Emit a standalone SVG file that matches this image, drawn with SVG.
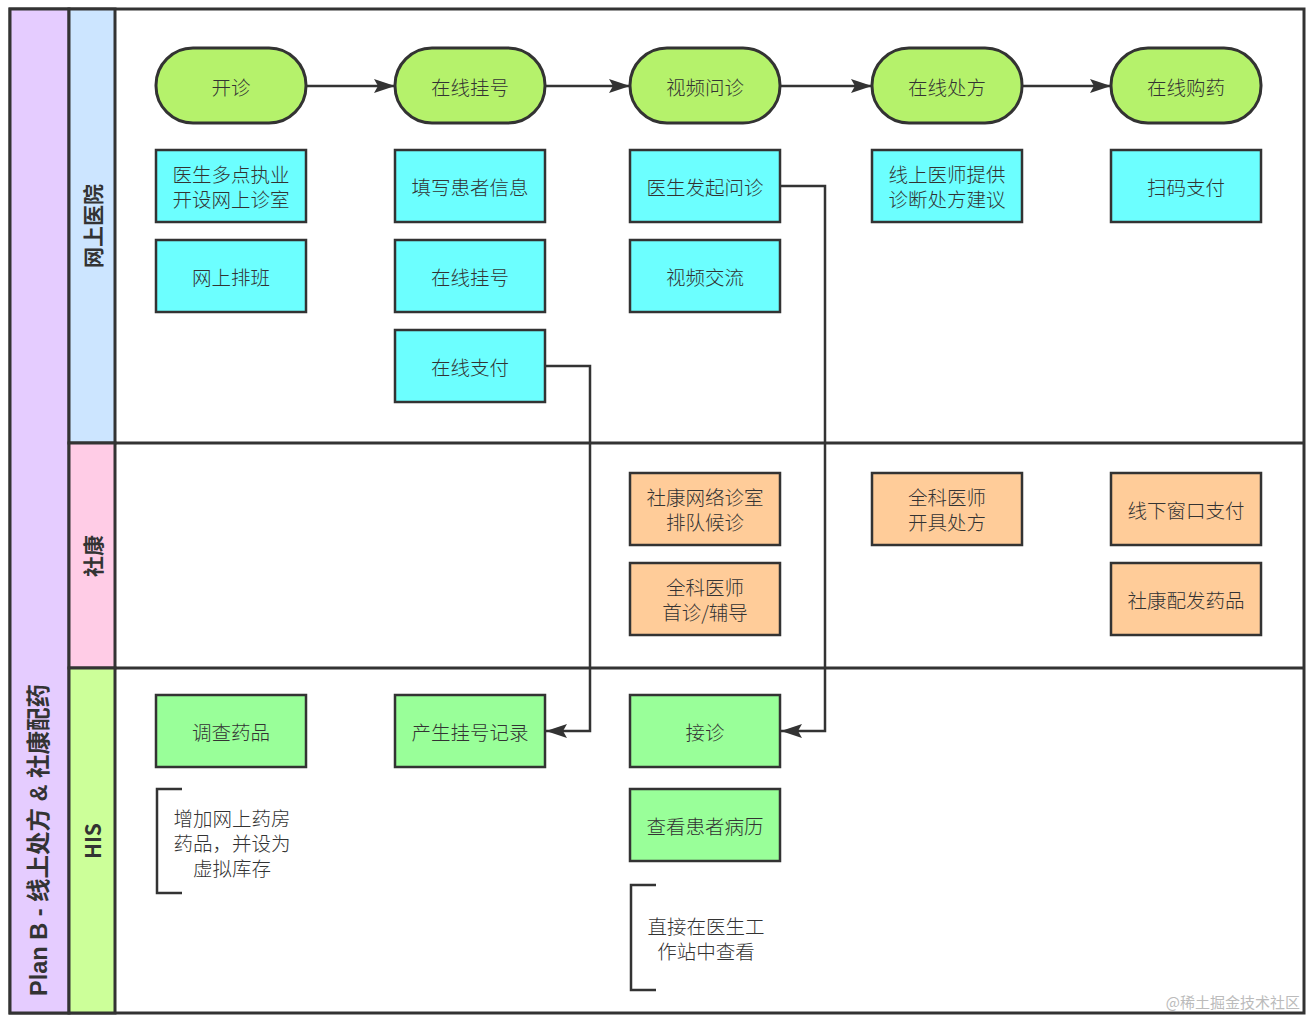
<svg xmlns="http://www.w3.org/2000/svg" width="1311" height="1021" viewBox="0 0 1311 1021">
<style>
text{font-family:"Noto Sans CJK SC","Liberation Sans",sans-serif;fill:#333;}
.t{font-size:19.5px;font-weight:300;text-anchor:middle;dominant-baseline:central;}
.lane{font-size:21px;font-weight:bold;text-anchor:middle;dominant-baseline:central;}
.title{font-family:"Liberation Sans","Noto Sans CJK SC",sans-serif;font-size:23.5px;font-weight:bold;text-anchor:middle;dominant-baseline:central;}
.st{fill:#b5f26b;stroke:#333;stroke-width:3;}
.cy{fill:#6cffff;stroke:#333;stroke-width:2.5;}
.or{fill:#ffcc99;stroke:#333;stroke-width:2.5;}
.gr{fill:#99ff99;stroke:#333;stroke-width:2.5;}
.ln{fill:none;stroke:#333;stroke-width:2.5;}
.br{fill:none;stroke:#333;stroke-width:2.5;}
</style>
<defs>
<marker id="ah" markerWidth="22" markerHeight="16" refX="21" refY="7" orient="auto" markerUnits="userSpaceOnUse">
<path d="M0,0 L21,7 L0,14 L4,7 Z" fill="#333"/>
</marker>
</defs>
<rect width="1311" height="1021" fill="#fff"/>
<g id="pool">
<rect x="10" y="9" width="1294" height="1004" fill="#fff" stroke="#333" stroke-width="3"/>
<rect x="10" y="9" width="59" height="1004" fill="#e5ccff" stroke="#333" stroke-width="3"/>
<rect x="69" y="9" width="46" height="434" fill="#cce5ff" stroke="#333" stroke-width="3"/>
<rect x="69" y="443" width="46" height="225" fill="#ffcce6" stroke="#333" stroke-width="3"/>
<rect x="69" y="668" width="46" height="345" fill="#ccff99" stroke="#333" stroke-width="3"/>
<line x1="115" y1="443" x2="1304" y2="443" stroke="#333" stroke-width="3"/>
<line x1="115" y1="668" x2="1304" y2="668" stroke="#333" stroke-width="3"/>
<text class="title" transform="translate(39,840) rotate(-90)">Plan B - 线上处方 &amp; 社康配药</text>
<text class="lane" transform="translate(92,226) rotate(-90)">网上医院</text>
<text class="lane" transform="translate(92,556) rotate(-90)">社康</text>
<text class="lane" transform="translate(92,841) rotate(-90)">HIS</text>
</g>
<g id="connectors">
<line class="ln" x1="306" y1="86" x2="395" y2="86" marker-end="url(#ah)"/>
<line class="ln" x1="545" y1="86" x2="630" y2="86" marker-end="url(#ah)"/>
<line class="ln" x1="780" y1="86" x2="872" y2="86" marker-end="url(#ah)"/>
<line class="ln" x1="1022" y1="86" x2="1111" y2="86" marker-end="url(#ah)"/>
<polyline class="ln" points="545,366 590,366 590,731 546,731" marker-end="url(#ah)"/>
<polyline class="ln" points="780,186 825,186 825,731 781,731" marker-end="url(#ah)"/>
</g>
<g id="n-kaizhen"><rect class="st" x="156" y="48" width="150" height="75" rx="37"/><text class="t" x="231" y="86">开诊</text></g>
<g id="n-zaixianguahao"><rect class="st" x="395" y="48" width="150" height="75" rx="37"/><text class="t" x="470" y="86">在线挂号</text></g>
<g id="n-shipinwenzhen"><rect class="st" x="630" y="48" width="150" height="75" rx="37"/><text class="t" x="705" y="86">视频问诊</text></g>
<g id="n-zaixianchufang"><rect class="st" x="872" y="48" width="150" height="75" rx="37"/><text class="t" x="947" y="86">在线处方</text></g>
<g id="n-zaixiangouyao"><rect class="st" x="1111" y="48" width="150" height="75" rx="37"/><text class="t" x="1186" y="86">在线购药</text></g>

<g id="n-duodian"><rect class="cy" x="156" y="150" width="150" height="72"/><text class="t"><tspan x="231" y="173">医生多点执业</tspan><tspan x="231" y="198">开设网上诊室</tspan></text></g>
<g id="n-tianxie"><rect class="cy" x="395" y="150" width="150" height="72"/><text class="t" x="470" y="186">填写患者信息</text></g>
<g id="n-faqi"><rect class="cy" x="630" y="150" width="150" height="72"/><text class="t" x="705" y="186">医生发起问诊</text></g>
<g id="n-tigong"><rect class="cy" x="872" y="150" width="150" height="72"/><text class="t"><tspan x="947" y="173">线上医师提供</tspan><tspan x="947" y="198">诊断处方建议</tspan></text></g>
<g id="n-saoma"><rect class="cy" x="1111" y="150" width="150" height="72"/><text class="t" x="1186" y="186">扫码支付</text></g>
<g id="n-paiban"><rect class="cy" x="156" y="240" width="150" height="72"/><text class="t" x="231" y="276">网上排班</text></g>
<g id="n-guahao2"><rect class="cy" x="395" y="240" width="150" height="72"/><text class="t" x="470" y="276">在线挂号</text></g>
<g id="n-shipinjiaoliu"><rect class="cy" x="630" y="240" width="150" height="72"/><text class="t" x="705" y="276">视频交流</text></g>
<g id="n-zhifu"><rect class="cy" x="395" y="330" width="150" height="72"/><text class="t" x="470" y="366">在线支付</text></g>

<g id="n-houzhen"><rect class="or" x="630" y="473" width="150" height="72"/><text class="t"><tspan x="705" y="496">社康网络诊室</tspan><tspan x="705" y="521">排队候诊</tspan></text></g>
<g id="n-shouzhen"><rect class="or" x="630" y="563" width="150" height="72"/><text class="t"><tspan x="705" y="586">全科医师</tspan><tspan x="705" y="611">首诊/辅导</tspan></text></g>
<g id="n-kaiju"><rect class="or" x="872" y="473" width="150" height="72"/><text class="t"><tspan x="947" y="496">全科医师</tspan><tspan x="947" y="521">开具处方</tspan></text></g>
<g id="n-xianxia"><rect class="or" x="1111" y="473" width="150" height="72"/><text class="t" x="1186" y="509">线下窗口支付</text></g>
<g id="n-peifa"><rect class="or" x="1111" y="563" width="150" height="72"/><text class="t" x="1186" y="599">社康配发药品</text></g>

<g id="n-diaocha"><rect class="gr" x="156" y="695" width="150" height="72"/><text class="t" x="231" y="731">调查药品</text></g>
<g id="n-jilu"><rect class="gr" x="395" y="695" width="150" height="72"/><text class="t" x="470" y="731">产生挂号记录</text></g>
<g id="n-jiezhen"><rect class="gr" x="630" y="695" width="150" height="72"/><text class="t" x="705" y="731">接诊</text></g>
<g id="n-bingli"><rect class="gr" x="630" y="789" width="150" height="72"/><text class="t" x="705" y="825">查看患者病历</text></g>

<g id="note-yaofang"><path class="br" d="M182,789 L157,789 L157,893 L182,893"/><text class="t"><tspan x="232" y="817">增加网上药房</tspan><tspan x="232" y="842">药品，并设为</tspan><tspan x="232" y="867">虚拟库存</tspan></text></g>
<g id="note-gongzuozhan"><path class="br" d="M656,885 L631,885 L631,990 L656,990"/><text class="t"><tspan x="706" y="925">直接在医生工</tspan><tspan x="706" y="950">作站中查看</tspan></text></g>

<text x="1300" y="1008" font-size="15" text-anchor="end" style="fill:#bbb">@稀土掘金技术社区</text>
</svg>
